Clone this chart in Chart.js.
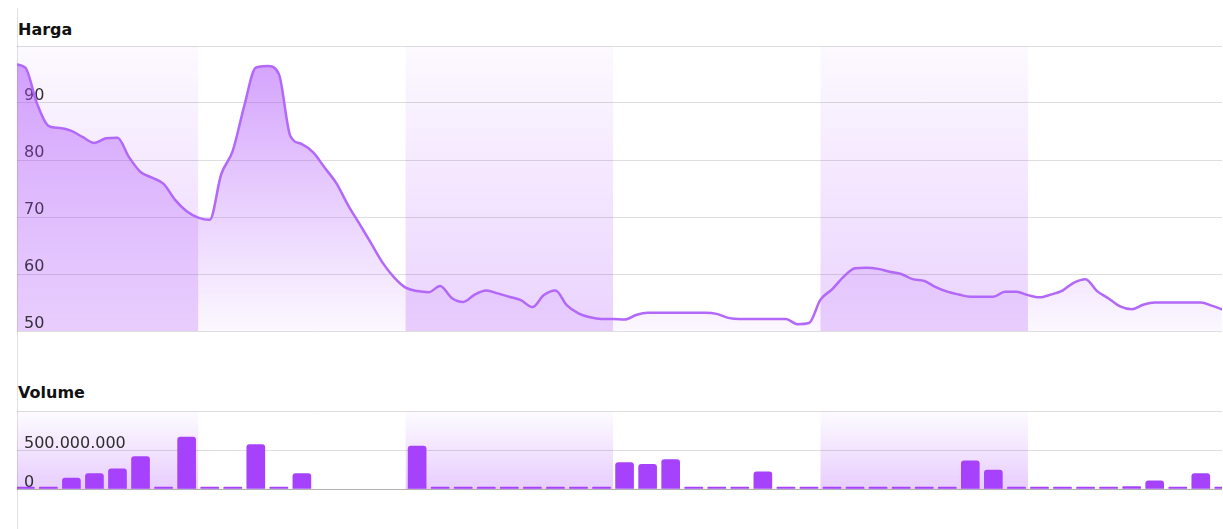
<!DOCTYPE html>
<html><head><meta charset="utf-8">
<script src="https://cdn.jsdelivr.net/npm/chart.js@4.4.0/dist/chart.umd.min.js"></script>
<style>
html,body{margin:0;padding:0;background:#fff;}
#wrap{position:relative;width:1223px;height:529px;overflow:hidden;font-family:"DejaVu Sans",Verdana,sans-serif;}
#vline{position:absolute;left:17px;top:8px;width:1px;height:521px;background:#e2e2e2;}
.ttl{position:absolute;left:18px;font-weight:bold;font-size:16px;color:#111;line-height:16px;}
#priceCv{position:absolute;left:17px;top:45px;}
#volCv{position:absolute;left:17px;top:410px;}
</style></head>
<body>
<div id="wrap">
  <div id="vline"></div>
  <div class="ttl" style="top:22px">Harga</div>
  <div class="ttl" style="top:385px">Volume</div>
  <canvas id="priceCv" width="1206" height="288"></canvas>
  <canvas id="volCv" width="1206" height="81"></canvas>
</div>
<script>
// ---- data ----
// trading-day slots (0..52); price sampled every half slot starting at -0.5
const priceStart = -0.5;
const priceStep = 0.5;
const priceValues = [
  96.8, 96.2, 90.0, 86.0, 85.6, 85.1, 84.0, 83.0, 83.8, 83.9,
  80.5, 77.9, 76.9, 75.8, 73.0, 71.0, 69.9, 69.5, 77.5, 81.6,
  89.5, 96.2, 96.5, 95.1, 84.2, 82.8, 81.3, 78.6, 75.9, 72.1,
  68.8, 65.4, 62.0, 59.4, 57.6, 57.0, 56.8, 57.9, 55.8, 55.1,
  56.4, 57.1, 56.6, 56.0, 55.4, 54.2, 56.3, 57.1, 54.5, 53.1,
  52.4, 52.1, 52.1, 52.0, 52.8, 53.2, 53.2, 53.2, 53.2, 53.2,
  53.2, 53.0, 52.3, 52.1, 52.1, 52.1, 52.1, 52.1, 51.2, 51.4,
  55.5, 57.3, 59.5, 61.0, 61.1, 60.9, 60.4, 60.0, 59.1, 58.8,
  57.7, 56.9, 56.4, 56.0, 56.0, 56.0, 56.9, 56.9, 56.3, 55.9,
  56.4, 57.1, 58.5, 59.1, 57.0, 55.7, 54.3, 53.8, 54.6, 55.0,
  55.0, 55.0, 55.0, 55.0, 54.4, 53.7
];
const volumeValues = [
  0, 0, 141e6, 197e6, 259e6, 417e6, 0, 667e6, 0, 0,
  570e6, 0, 197e6, null, null, null, null, 549e6, 0, 0,
  0, 0, 0, 0, 0, 0, 338e6, 316e6, 377e6, 0,
  0, 0, 219e6, 0, 0, 0, 0, 0, 0, 0,
  0, 360e6, 241e6, 0, 0, 0, 0, 0, 30e6, 105e6,
  0, 197e6, 0
];
// shaded period bands, in slot units
const bandRanges = [[-1.5, 7.5], [16.5, 25.5], [34.5, 43.5]];
const priceTicks = [50, 60, 70, 80, 90, 100];
const volumeTicks = [0, 500000000, 1000000000];

// ---- build ----
const pricePoints = priceValues.map((v, k) => ({x: priceStart + k * priceStep, y: v}));
const volPoints = volumeValues.map((v, i) => ({x: i, y: v}));
const X_MIN = -0.36, X_MAX = 51.92;
const PURPLE = '168,70,250';
const FONT = {family: '"DejaVu Sans", Verdana, sans-serif', size: 16};

const bandPlugin = {
  id: 'bands',
  beforeDraw(chart, args, opts) {
    const {ctx, chartArea: a, scales: {x}} = chart;
    if (!a) return;
    const g = ctx.createLinearGradient(0, a.top, 0, a.bottom);
    g.addColorStop(0, `rgba(${PURPLE},${opts.top})`);
    g.addColorStop(1, `rgba(${PURPLE},${opts.bottom})`);
    ctx.save();
    ctx.beginPath(); ctx.rect(a.left, a.top, a.width, a.height); ctx.clip();
    ctx.fillStyle = g;
    bandRanges.forEach(([s, e]) => {
      const x0 = x.getPixelForValue(s), x1 = x.getPixelForValue(e);
      ctx.fillRect(x0, a.top, x1 - x0, a.height);
    });
    ctx.restore();
  }
};

const dotFmt = v => String(Math.round(v)).replace(/\B(?=(\d{3})+(?!\d))/g, '.');
const flatAxis = s => { s.width = 0; s.paddingTop = 0; s.paddingBottom = 0; s.paddingLeft = 0; s.paddingRight = 0; };

new Chart(document.getElementById('priceCv'), {
  type: 'line',
  data: {datasets: [{
    data: pricePoints,
    borderColor: 'rgb(178,104,248)',
    borderWidth: 2.5,
    pointRadius: 0,
    cubicInterpolationMode: 'monotone',
    fill: 'start',
    backgroundColor: c => {
      const a = c.chart.chartArea;
      if (!a) return `rgba(${PURPLE},0.2)`;
      const g = c.chart.ctx.createLinearGradient(0, a.top, 0, a.bottom);
      g.addColorStop(0, `rgba(${PURPLE},0.52)`);
      g.addColorStop(1, `rgba(${PURPLE},0.04)`);
      return g;
    }
  }]},
  options: {
    responsive: false, animation: false, events: [],
    layout: {padding: {left: 0, right: 1, top: 1, bottom: 2}},
    plugins: {legend: {display: false}, tooltip: {enabled: false}, bands: {top: 0.03, bottom: 0.24}},
    scales: {
      x: {type: 'linear', min: X_MIN, max: X_MAX, display: false},
      y: {
        min: 50, max: 100,
        afterBuildTicks: s => { s.ticks = priceTicks.map(v => ({value: v})); },
        afterFit: flatAxis,
        border: {display: false},
        grid: {color: 'rgba(0,0,0,0.13)', drawTicks: false},
        ticks: {mirror: true, padding: 7, labelOffset: -7, font: FONT, color: '#2e2e2e',
                autoSkip: false, callback: v => (v === 100 ? '' : v)}
      }
    }
  },
  plugins: [bandPlugin]
});

new Chart(document.getElementById('volCv'), {
  type: 'bar',
  data: {datasets: [{
    data: volPoints,
    backgroundColor: 'rgb(166,66,252)',
    borderRadius: 3,
    barThickness: 18,
    minBarLength: 2
  }]},
  options: {
    responsive: false, animation: false, events: [],
    layout: {padding: {left: 0, right: 1, top: 1, bottom: 2}},
    plugins: {legend: {display: false}, tooltip: {enabled: false}, bands: {top: 0.02, bottom: 0.27}},
    scales: {
      x: {type: 'linear', min: X_MIN, max: X_MAX, display: false, offset: false},
      y: {
        min: 0, max: 1000000000,
        afterBuildTicks: s => { s.ticks = volumeTicks.map(v => ({value: v})); },
        afterFit: flatAxis,
        border: {display: false},
        grid: {color: c => (c.tick && c.tick.value === 0 ? 'rgba(0,0,0,0.3)' : 'rgba(0,0,0,0.13)'), drawTicks: false},
        ticks: {mirror: true, padding: 7, labelOffset: -6, font: FONT, color: '#2e2e2e',
                autoSkip: false, callback: v => (v === 1000000000 ? '' : dotFmt(v))}
      }
    }
  },
  plugins: [bandPlugin]
});
</script>
</body></html>
